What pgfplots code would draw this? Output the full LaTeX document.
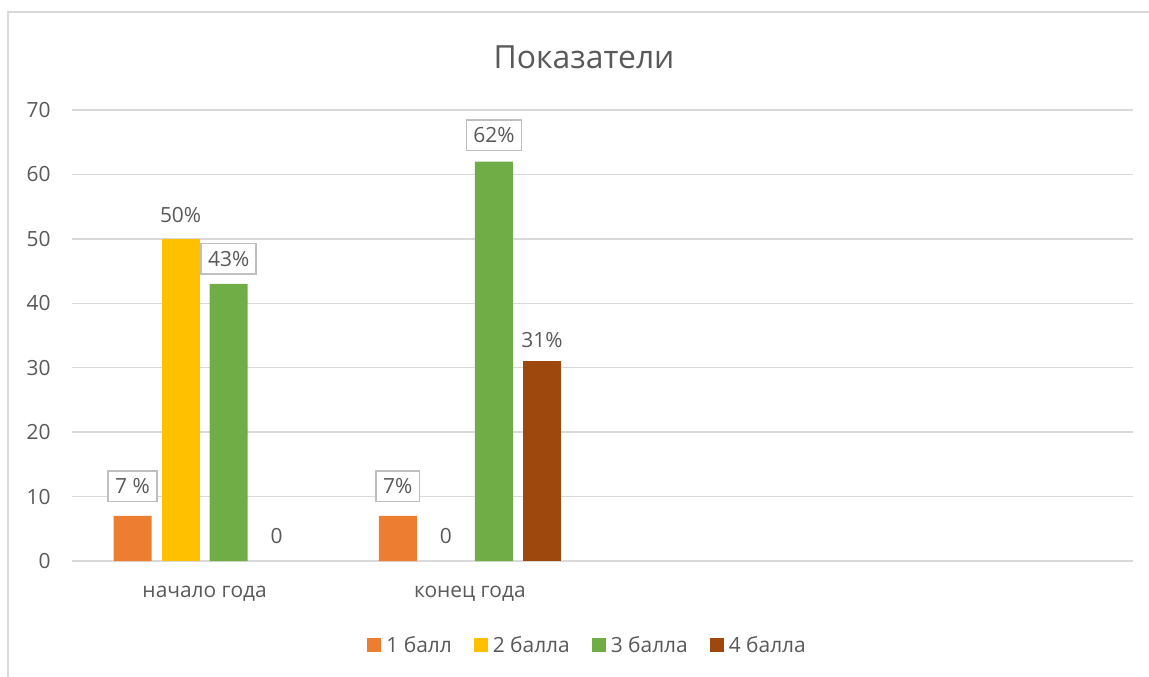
\documentclass[border=0pt]{standalone}
\usepackage{pgfplots}
\pgfplotsset{compat=1.18}
\usepackage{fontspec}
\setmainfont{Open Sans}
\definecolor{txt}{HTML}{595959}
\definecolor{gridc}{HTML}{D9D9D9}
\definecolor{boxc}{HTML}{BFBFBF}
\definecolor{c1}{HTML}{ED7D31}
\definecolor{c2}{HTML}{FFC000}
\definecolor{c3}{HTML}{70AD47}
\definecolor{c4}{HTML}{9E480E}
\begin{document}
\begin{tikzpicture}
\useasboundingbox (0,0) rectangle (1149bp,677bp);
\draw[gridc, line width=1.5bp] (8bp,0) -- (8bp,665bp) -- (1149bp,665bp);
\node[text=txt, font=\fontsize{32}{38}\selectfont] at (584bp,620bp) {Показатели};
\begin{axis}[
  at={(72bp,116bp)}, anchor=south west,
  scale only axis, width=1061bp, height=451bp,
  xmin=-0.5, xmax=3.5, ymin=0, ymax=70,
  ytick={0,10,...,70}, xtick={0,1},
  xticklabels={начало года, конец года},
  major tick length=0,
  axis line style={draw=none},
  ymajorgrids, grid style={gridc, line width=1.5bp},
  /pgf/number format/assume math mode=true,
  ticklabel style={text=txt, font=\fontsize{21}{25}\selectfont},
  yticklabel style={xshift=-18bp},
  xticklabel style={yshift=-22bp},
  clip=false,
  bar width=0.1433,
  legend columns=4,
  legend style={at={(0.486,-0.186)}, anchor=center, draw=none, fill=none,
    font=\fontsize{21}{25}\selectfont, text=txt,
    /tikz/every odd column/.append style={column sep=3bp},
    /tikz/every even column/.append style={column sep=20bp}},
  legend image code/.code={\fill[#1, draw=none] (4bp,-7bp) rectangle (18bp,7bp);},
]
\addplot[ybar, fill=c1, draw=none, bar shift=-0.2717] coordinates {(0,7) (1,7)};
\addplot[ybar, fill=c2, draw=none, bar shift=-0.0906] coordinates {(0,50)};
\addplot[ybar, fill=c3, draw=none, bar shift=0.0906] coordinates {(0,43) (1,62)};
\addplot[ybar, fill=c4, draw=none, bar shift=0.2717] coordinates {(1,31)};
\legend{1 балл, 2 балла, 3 балла, 4 балла}
\tikzset{lb/.style={text=txt, font=\fontsize{21}{25}\selectfont, inner xsep=7bp, inner ysep=7.5bp},
  bx/.style={lb, draw=boxc, line width=1.5bp, fill=white}}
\node[bx] at (axis cs:-0.2717,11.6) {7 \%};
\node[lb] at (axis cs:-0.0906,53.7) {50\%};
\node[bx] at (axis cs:0.0906,46.9) {43\%};
\node[lb] at (axis cs:0.2717,3.9) {0};
\node[bx] at (axis cs:0.7283,11.6) {7\%};
\node[lb] at (axis cs:0.9094,3.9) {0};
\node[bx] at (axis cs:1.0906,66.1) {62\%};
\node[lb] at (axis cs:1.2717,34.3) {31\%};
\end{axis}
\end{tikzpicture}
\end{document}
